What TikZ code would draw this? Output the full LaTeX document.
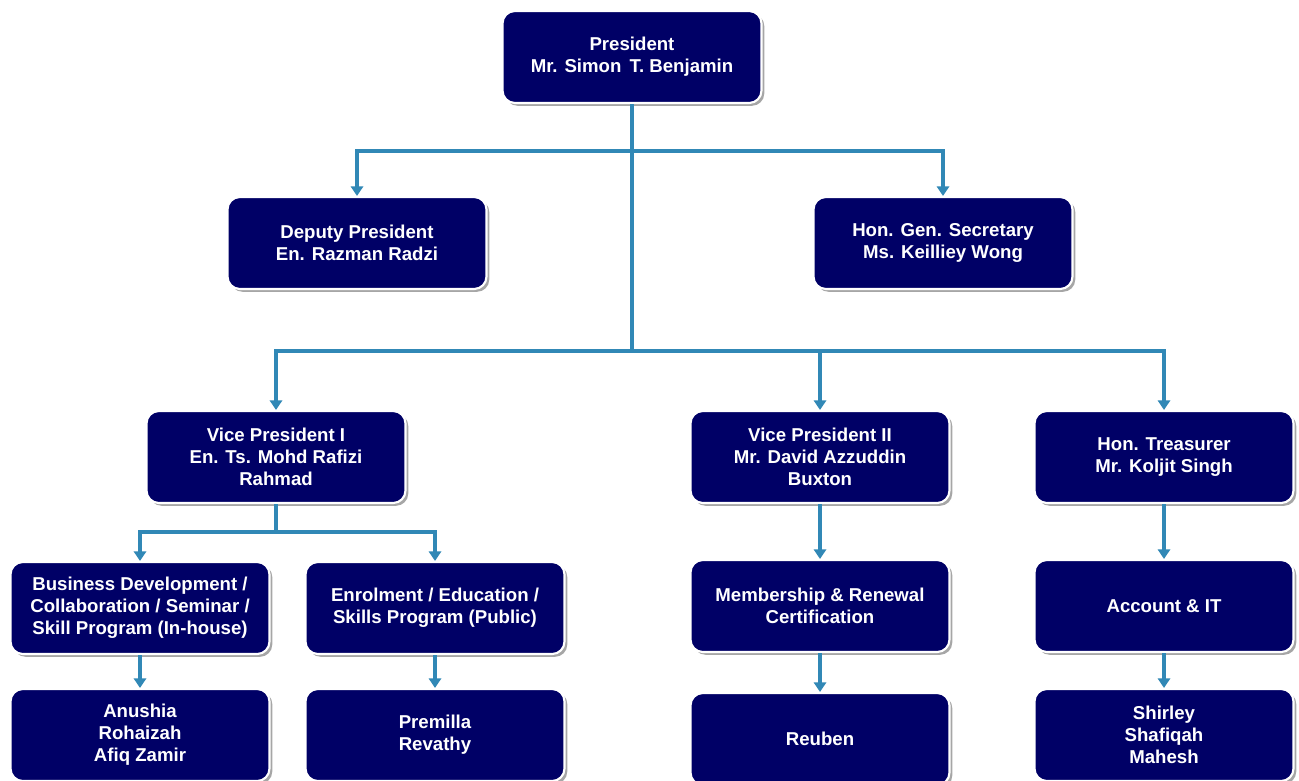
\documentclass[tikz,border=0pt]{standalone}
\usepackage{fontspec}
\setmainfont{Liberation Sans}
\usetikzlibrary{arrows.meta,shadows}
\definecolor{navy}{RGB}{0,0,102}
\definecolor{conn}{RGB}{49,136,182}
\tikzset{
  box/.style={draw=white, line width=1.2pt, fill=navy, rounded corners=7pt,
    minimum width=5.18cm, minimum height=1.84cm, text=white, align=center,
    font=\fontsize{10.6pt}{12.6pt}\selectfont\bfseries,
    drop shadow={shadow xshift=1.6pt, shadow yshift=-1.6pt, fill=black, opacity=0.35}},
  link/.style={draw=conn, line width=1.8pt},
  arr/.style={link, -{Triangle[width=7pt,length=5.5pt]}}
}
\begin{document}
\begin{tikzpicture}[x=0.02cm,y=-0.02cm]
\clip (0,0) rectangle (1299,781);
\fill[white] (0,0) rectangle (1299,781);
\node[box] (pres) at (632,57) {President\\Mr. Simon\, T. Benjamin};
\node[box] (dep) at (357,243) {Deputy President\\En. Razman Radzi};
\node[box] (sec) at (943,243) {Hon. Gen. Secretary\\Ms. Keilliey Wong};
\node[box] (vp1) at (276,457) {Vice President I\\En. Ts. Mohd Rafizi\\Rahmad};
\node[box] (vp2) at (820,457) {Vice President II\\Mr. David Azzuddin\\Buxton};
\node[box] (tre) at (1164,457) {Hon. Treasurer\\Mr. Koljit Singh};
\node[box] (bus) at (140,608) {Business Development /\\Collaboration / Seminar /\\Skill Program (In-house)};
\node[box] (enr) at (435,608) {Enrolment / Education /\\Skills Program (Public)};
\node[box] (mem) at (820,606) {Membership \& Renewal\\Certification};
\node[box] (acc) at (1164,606) {Account \& IT};
\node[box] (anu) at (140,735) {Anushia\\Rohaizah\\Afiq Zamir};
\node[box] (pre) at (435,735) {Premilla\\Revathy};
\node[box] (reu) at (820,739) {Reuben};
\node[box] (shi) at (1164,735) {Shirley\\Shafiqah\\Mahesh};
\coordinate (j1) at (632,151);
\coordinate (j2) at (632,351);
\coordinate (j3) at (276,532);
\draw[arr] (pres.south) -- (j1) -| (dep.north);
\draw[arr] (j1) -| (sec.north);
\draw[link] (j1) -- (j2);
\draw[arr] (j2) -| (vp1.north);
\draw[arr] (j2) -| (vp2.north);
\draw[arr] (j2) -| (tre.north);
\draw[arr] (vp1.south) -- (j3) -| (bus.north);
\draw[arr] (j3) -| (enr.north);
\draw[arr] (vp2.south) -- (mem.north);
\draw[arr] (tre.south) -- (acc.north);
\draw[arr] (bus.south) -- (anu.north);
\draw[arr] (enr.south) -- (pre.north);
\draw[arr] (mem.south) -- (reu.north);
\draw[arr] (acc.south) -- (shi.north);
\end{tikzpicture}
\end{document}
